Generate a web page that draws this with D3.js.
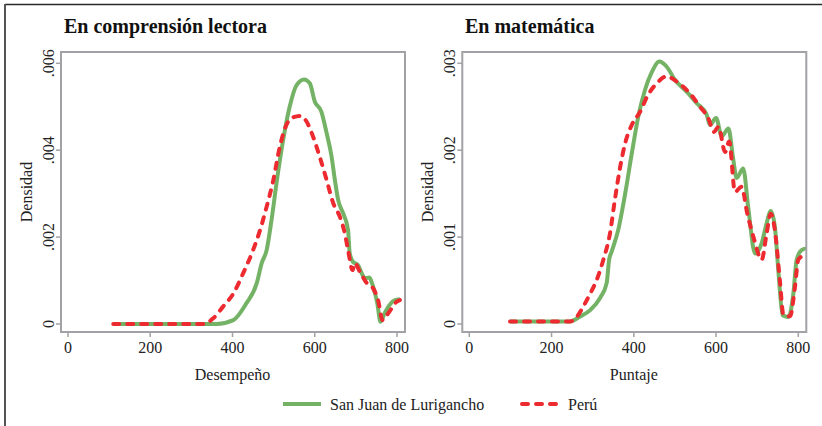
<!DOCTYPE html>
<html>
<head>
<meta charset="utf-8">
<script src="https://cdn.jsdelivr.net/npm/d3@7/dist/d3.min.js"></script>
<style>
  body { margin: 0; background: #fff; }
  text { font-family: "Liberation Serif", "Times New Roman", serif; fill: #222; }
</style>
</head>
<body>
<div id="chart"></div>
<script>
var width = 822;
var height = 426;

// ---- data ----
// Comprension lectora
var lecSjlX = [110, 200, 300, 361, 402, 434, 459, 471, 483, 495, 507, 519, 539, 556, 574, 588, 600, 616, 629, 641, 649, 657, 669, 681, 685, 693, 705, 714, 722, 732, 742, 752, 760, 770, 782, 795, 807];
var lecSjlY = [0, 0, 0, 0, 0.00009, 0.00048, 0.00094, 0.0014, 0.0017, 0.0024, 0.00324, 0.0040, 0.0050, 0.0055, 0.00563, 0.00554, 0.00512, 0.00489, 0.00439, 0.00385, 0.00331, 0.00285, 0.00255, 0.00216, 0.00163, 0.00143, 0.00136, 0.00117, 0.00105, 0.00107, 0.00086, 0.00048, 0.00005, 0.00025, 0.00044, 0.00055, 0.00057];
var lecPeruX = [110, 200, 300, 329, 353, 377, 402, 426, 450, 467, 483, 499, 515, 531, 548, 564, 580, 596, 612, 629, 645, 661, 673, 681, 692, 697, 710, 726, 742, 754, 765, 775, 787, 799, 807];
var lecPeruY = [0, 0, 0, 0, 0.00013, 0.0004, 0.0007, 0.00117, 0.0017, 0.00216, 0.0027, 0.0033, 0.00408, 0.00458, 0.00476, 0.00479, 0.00466, 0.00431, 0.00385, 0.00331, 0.00278, 0.00247, 0.00209, 0.0017, 0.00124, 0.0014, 0.0012, 0.00095, 0.00082, 0.00055, 0.00009, 0.0002, 0.00036, 0.00051, 0.00055];

// Matematica
var matSjlX = [99, 150, 200, 245, 269, 294, 318, 334, 340, 346, 362, 379, 395, 411, 427, 444, 462, 480, 500, 529, 553, 577, 585, 600, 614, 630, 642, 650, 666, 678, 695, 711, 723, 733, 743, 752, 762, 776, 788, 796, 808, 820];
var matSjlY = [0.00003, 0.00003, 0.00003, 0.00003, 0.000084, 0.00016, 0.0003, 0.00047, 0.00074, 0.00083, 0.00108, 0.0015, 0.00196, 0.00239, 0.00269, 0.0029, 0.00302, 0.00296, 0.00281, 0.00267, 0.00254, 0.00241, 0.00229, 0.00237, 0.00216, 0.00225, 0.00189, 0.00168, 0.00179, 0.00135, 0.00081, 0.00093, 0.00116, 0.0013, 0.00112, 0.00058, 0.0001, 0.00008, 0.00035, 0.00074, 0.00085, 0.00087];
var matPeruX = [99, 150, 200, 245, 261, 277, 294, 310, 326, 342, 354, 367, 379, 395, 415, 435, 456, 480, 504, 537, 561, 581, 595, 606, 622, 632, 646, 662, 676, 691, 711, 723, 733, 743, 755, 764, 780, 792, 800, 812, 820];
var matPeruY = [0.00003, 0.00003, 0.00003, 0.00003, 0.00008, 0.0002, 0.00035, 0.00051, 0.00074, 0.00104, 0.00143, 0.00181, 0.00208, 0.00229, 0.00244, 0.00264, 0.00277, 0.00285, 0.00279, 0.00265, 0.0025, 0.00237, 0.00221, 0.00227, 0.00198, 0.0021, 0.00152, 0.00158, 0.00127, 0.001, 0.00074, 0.00104, 0.00127, 0.00108, 0.00051, 0.0001, 0.00009, 0.00043, 0.00074, 0.00078, 0.00078];

var xTicks = [0, 200, 400, 600, 800];
var lecYTicks = [0, 0.002, 0.004, 0.006];
var matYTicks = [0, 0.001, 0.002, 0.003];
var seriesNames = ["San Juan de Lurigancho", "Perú"];

var green = "#74b265";
var red = "#ec2a30";
var axisGray = "#a2a2a6";

var svg = d3.select("#chart").append("svg")
    .attr("width", width)
    .attr("height", height);

// outer frame (only top and left are visible)
svg.append("line").attr("x1", 5).attr("x2", width).attr("y1", 4.5).attr("y2", 4.5)
    .style("stroke", "#2a2a2a").style("stroke-width", 1.5);
svg.append("line").attr("x1", 5).attr("x2", 5).attr("y1", 4).attr("y2", height)
    .style("stroke", "#555").style("stroke-width", 2);

function yFmt(d) {
    if (d === 0) return "0";
    return d3.format(".3f")(d).replace(/^0/, "");
}

function drawPanel(opt) {
    var xScale = d3.scaleLinear().domain([0, 800]).range([opt.x0, opt.x0 + 329]);
    var yScale = d3.scaleLinear().domain([0, opt.yMax]).range([324, 63.3]);

    var g = svg.append("g");

    // title
    g.append("text")
        .attr("x", opt.titleX)
        .attr("y", 33)
        .style("font-size", "20px")
        .style("font-weight", "bold")
        .style("fill", "#111")
        .text(opt.title);

    var boxL = opt.x0 - 7, boxR = opt.x0 + 337, boxT = 52, boxB = 332;

    var clipId = "clip" + opt.id;
    svg.append("clipPath").attr("id", clipId)
        .append("rect").attr("x", boxL).attr("y", boxT)
        .attr("width", boxR - boxL).attr("height", boxB - boxT);

    // y ticks
    g.selectAll(".ytick")
        .data(opt.yTicks)
        .enter().append("line")
        .attr("x1", boxL - 5).attr("x2", boxL)
        .attr("y1", function(d) { return yScale(d); })
        .attr("y2", function(d) { return yScale(d); })
        .style("stroke", axisGray).style("stroke-width", 1.5);

    g.selectAll(".ylab")
        .data(opt.yTicks)
        .enter().append("text")
        .attr("transform", function(d) { return "translate(" + (boxL - 7) + "," + yScale(d) + ") rotate(-90)"; })
        .attr("text-anchor", "middle")
        .style("font-size", "16px")
        .text(yFmt);

    // x ticks
    g.selectAll(".xtick")
        .data(xTicks)
        .enter().append("line")
        .attr("x1", function(d) { return xScale(d); })
        .attr("x2", function(d) { return xScale(d); })
        .attr("y1", boxB).attr("y2", boxB + 5)
        .style("stroke", axisGray).style("stroke-width", 1.5);

    g.selectAll(".xlab")
        .data(xTicks)
        .enter().append("text")
        .attr("x", function(d) { return xScale(d); })
        .attr("y", 353)
        .attr("text-anchor", "middle")
        .style("font-size", "16px")
        .text(function(d) { return d; });

    // axis titles
    g.append("text")
        .attr("transform", "translate(" + (boxL - 29) + "," + ((boxT + boxB) / 2) + ") rotate(-90)")
        .attr("text-anchor", "middle")
        .style("font-size", "16px")
        .text("Densidad");

    g.append("text")
        .attr("x", xScale(400))
        .attr("y", 380)
        .attr("text-anchor", "middle")
        .style("font-size", "16px")
        .text(opt.xTitle);

    var line = d3.line()
        .x(function(d) { return xScale(d[0]); })
        .y(function(d) { return yScale(d[1]); })
        .curve(d3.curveMonotoneX);

    var plot = g.append("g").attr("clip-path", "url(#" + clipId + ")");

    plot.append("path")
        .attr("d", line(d3.zip(opt.sjlX, opt.sjlY)))
        .style("fill", "none")
        .style("stroke", green)
        .style("stroke-width", 4)
        .style("stroke-linejoin", "round");

    plot.append("path")
        .attr("d", line(d3.zip(opt.peruX, opt.peruY)))
        .style("fill", "none")
        .style("stroke", red)
        .style("stroke-width", 4)
        .style("stroke-linecap", "round")
        .style("stroke-dasharray", "6,8");

    // box
    g.append("rect")
        .attr("x", boxL).attr("y", boxT)
        .attr("width", boxR - boxL).attr("height", boxB - boxT)
        .style("fill", "none")
        .style("stroke", axisGray)
        .style("stroke-width", 2);
}

drawPanel({
    id: 1, title: "En comprensión lectora", titleX: 64, x0: 68, yMax: 0.006,
    yTicks: lecYTicks, xTitle: "Desempeño",
    sjlX: lecSjlX, sjlY: lecSjlY, peruX: lecPeruX, peruY: lecPeruY
});

drawPanel({
    id: 2, title: "En matemática", titleX: 465, x0: 469.3, yMax: 0.003,
    yTicks: matYTicks, xTitle: "Puntaje",
    sjlX: matSjlX, sjlY: matSjlY, peruX: matPeruX, peruY: matPeruY
});

// legend
var legend = svg.append("g");
legend.append("line")
    .attr("x1", 283).attr("x2", 321).attr("y1", 404).attr("y2", 404)
    .style("stroke", green).style("stroke-width", 4);
legend.append("text")
    .attr("x", 330).attr("y", 410)
    .style("font-size", "16px")
    .text(seriesNames[0]);
legend.append("line")
    .attr("x1", 522).attr("x2", 560).attr("y1", 404).attr("y2", 404)
    .style("stroke", red).style("stroke-width", 4)
    .style("stroke-linecap", "round")
    .style("stroke-dasharray", "6,8");
legend.append("text")
    .attr("x", 568).attr("y", 410)
    .style("font-size", "16px")
    .text(seriesNames[1]);
</script>
</body>
</html>
